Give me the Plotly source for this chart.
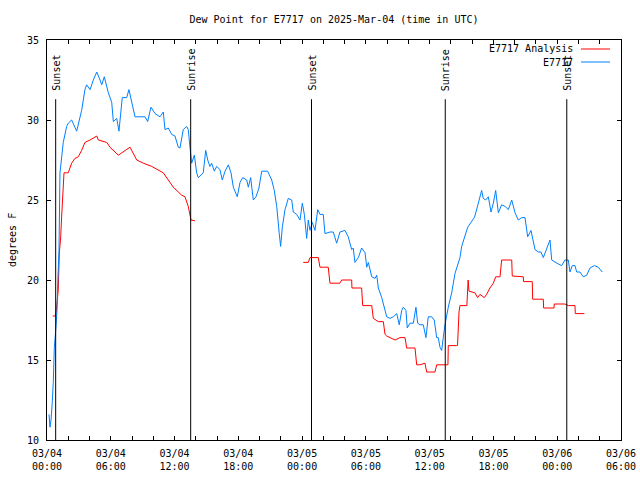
import pandas as pd
import plotly.graph_objects as go

# ---- data (hours after 2025-03-04 00:00 UTC, dew point in deg F) ----
obs_hours = [0.19, 0.28, 0.38, 0.44, 0.50, 0.59, 0.69, 0.85, 0.94, 1.01, 1.06, 1.13, 1.22, 1.53, 1.85,
             2.00, 2.32, 2.47, 2.79, 3.26, 3.57, 3.73, 4.05, 4.36, 4.68, 4.99, 5.15, 5.39, 5.77, 6.09,
             6.24, 6.56, 6.77, 7.08, 7.50, 7.71, 7.97, 8.28, 8.75, 9.22, 9.47, 9.78, 10.16, 10.63, 10.94,
             11.10, 11.41, 11.73, 12.04, 12.35, 12.51, 12.82, 13.14, 13.29, 13.45, 13.61, 13.86, 14.08,
             14.23, 14.70, 14.93, 15.12, 15.33, 15.49, 15.74, 15.96, 16.27, 16.49, 16.75, 17.06, 17.31,
             17.53, 17.90, 18.16, 18.41, 18.79, 18.94, 19.16, 19.41, 19.66, 19.94, 20.20, 20.76, 21.14,
             21.38, 21.61, 21.85, 21.98, 22.14, 22.39, 22.70, 23.02, 23.17, 23.49, 23.80, 24.02, 24.21,
             24.43, 24.58, 24.74, 24.96, 25.21, 25.47, 25.68, 25.99, 26.15, 26.62, 26.93, 27.25, 27.56,
             28.03, 28.34, 28.66, 28.81, 28.97, 29.29, 29.60, 29.92, 30.08, 30.23, 30.55, 30.86, 31.02,
             31.17, 31.49, 31.80, 31.96, 32.27, 32.58, 32.90, 33.14, 33.37, 33.52, 33.77, 33.89, 34.15,
             34.46, 34.71, 34.87, 35.09, 35.40, 35.65, 35.87, 36.19, 36.43, 36.66, 36.81, 36.97, 37.13,
             37.28, 37.44, 37.75, 38.07, 38.38, 38.54, 38.85, 39.01, 39.32, 39.58, 39.89, 40.20, 40.36,
             40.57, 40.73, 40.89, 41.04, 41.27, 41.52, 41.77, 41.99, 42.21, 42.46, 42.77, 43.09, 43.40,
             43.72, 44.03, 44.34, 44.66, 44.97, 45.22, 45.53, 45.75, 45.91, 46.22, 46.47, 46.69, 47.01,
             47.32, 47.48, 47.79, 48.10, 48.42, 48.73, 49.04, 49.20, 49.42, 49.67, 49.83, 50.14, 50.45,
             50.77, 51.08, 51.49, 51.86, 52.24]
obs_vals = [11.6, 10.8, 11.25, 11.7, 12.4, 13.6, 15.8, 17.1, 18.1, 19.8, 21.1, 21.9, 26.7, 28.6, 29.6,
            29.8, 30.0, 29.8, 29.3, 30.6, 31.9, 32.2, 31.9, 32.5, 33.0, 32.5, 32.2, 32.7, 31.7, 31.1,
            29.9, 30.1, 29.3, 31.4, 31.4, 31.9, 31.1, 30.2, 30.2, 30.2, 29.9, 30.8, 30.4, 30.2, 30.5,
            29.4, 29.5, 29.1, 29.0, 28.3, 28.25, 29.4, 29.6, 29.4, 28.3, 27.3, 27.8, 26.7,
            26.4, 26.7, 28.1, 27.5, 27.1, 27.3, 26.8, 27.1, 26.9, 26.25, 26.8, 27.2, 26.7,
            25.8, 25.2, 26.1, 26.4, 26.25, 25.8, 26.4, 25.0, 25.2, 25.75, 26.8, 26.8, 26.25,
            25.6, 24.6, 22.9, 22.1, 23.3, 24.4, 25.1, 25.0, 24.25, 24.1, 23.75, 24.8, 24.1,
            22.6, 23.75, 23.1, 23.6, 23.1, 24.4, 24.1, 24.1, 22.9, 23.0, 23.0, 22.3, 23.0,
            23.1, 22.7, 21.9, 22.0, 21.1, 21.4, 22.0, 21.7, 20.8, 21.1, 20.2, 20.1, 20.3,
            19.5, 18.9, 18.1, 17.7, 17.6, 17.7, 17.9, 17.2, 18.1, 18.3, 18.1, 17.0, 17.3,
            17.3, 18.3, 17.3, 17.2, 17.2, 16.4, 17.7, 17.7, 17.5, 16.4, 16.4, 15.8, 15.6,
            16.4, 17.2, 18.3, 19.2, 20.4, 20.8, 21.4, 22.1, 22.7, 23.3, 23.6, 23.9, 24.25,
            24.8, 25.3, 25.6, 25.1, 25.0, 25.2, 24.25, 24.8, 25.6, 24.2, 24.7, 24.6, 24.4,
            25.0, 24.2, 23.75, 23.9, 23.9, 22.7, 23.1, 22.5, 21.9, 21.75, 21.75, 21.4, 21.9,
            22.5, 21.25, 21.1, 21.0, 20.9, 21.25, 21.25, 20.5, 20.9, 20.9, 20.5, 20.5, 20.2,
            20.3, 20.75, 20.9, 20.8, 20.5]

ana_hours = [0.54, 0.80, 0.91, 1.06, 1.16, 1.29, 1.38, 1.48, 1.60, 1.85, 2.00, 2.32, 2.63, 2.94, 3.26,
             3.57, 4.05, 4.68, 4.83, 5.62, 5.93, 6.71, 7.34, 7.81, 8.44, 9.06, 9.85, 10.63, 10.94,
             11.57, 11.88, 12.67, 12.98, 13.29, 13.55, 13.92,
             None,
             24.11, 24.58, 24.74, 25.52, 25.68, 26.46, 26.62, 27.56, 27.72, 28.66, 28.69, 29.60, 29.70,
             30.55, 30.70, 31.17, 31.64, 31.80, 31.96, 32.74, 33.21, 33.68, 33.84, 34.62, 34.78, 35.09,
             35.56, 35.72, 36.50, 36.66, 37.72, 37.75, 38.54, 38.62, 38.76, 38.85, 39.50, 39.56, 39.62,
             39.70, 40.26, 40.51, 40.73, 41.14, 41.36, 41.67, 41.99, 42.21, 42.62, 42.77, 43.72, 43.77,
             44.81, 44.83, 45.65, 45.69, 46.69, 46.72, 47.70, 47.72, 48.73, 49.04, 49.67, 49.70, 50.55]
ana_vals = [17.75, 17.75, 18.3, 19.4, 21.7, 22.7, 24.0, 25.0, 26.7, 26.7, 26.7, 27.3, 27.6, 27.7, 28.1,
            28.6, 28.75, 29.0, 28.75, 28.6, 28.3, 27.8, 28.1, 28.3, 27.5, 27.3, 27.1, 26.8, 26.7,
            26.1, 25.8, 25.3, 25.2, 24.6, 23.75, 23.7,
            None,
            21.1, 21.1, 21.4, 21.4, 20.8, 20.8, 19.8, 19.8, 20.0, 20.0, 19.5, 19.5, 18.4,
            18.4, 17.6, 17.4, 17.4, 16.6, 16.5, 16.25, 16.4, 16.4, 15.75, 15.75, 14.7, 14.7,
            14.8, 14.25, 14.25, 14.7, 14.7, 15.9, 15.9, 15.9, 18.0, 18.4, 18.4, 19.2, 20.0,
            19.3, 19.2, 18.9, 19.1, 18.9, 19.1, 19.5, 19.8, 20.2, 20.2, 21.25, 21.25, 20.25,
            20.2, 19.9, 19.9, 18.8, 18.8, 18.25, 18.25, 18.5, 18.5, 18.4, 18.4, 17.9, 17.9]

sun_times = ["2025-03-04 00:49", "2025-03-04 13:31", "2025-03-05 00:53", "2025-03-05 13:28", "2025-03-06 00:54"]
sun_labels = ["Sunset", "Sunrise", "Sunset", "Sunrise", "Sunset"]

x_tick_vals = ["2025-03-04 00:00", "2025-03-04 06:00", "2025-03-04 12:00", "2025-03-04 18:00",
               "2025-03-05 00:00", "2025-03-05 06:00", "2025-03-05 12:00", "2025-03-05 18:00",
               "2025-03-06 00:00", "2025-03-06 06:00"]
x_tick_text = ["03/04<br>00:00", "03/04<br>06:00", "03/04<br>12:00", "03/04<br>18:00",
               "03/05<br>00:00", "03/05<br>06:00", "03/05<br>12:00", "03/05<br>18:00",
               "03/06<br>00:00", "03/06<br>06:00"]
y_ticks = [10, 15, 20, 25, 30, 35]

start = pd.Timestamp("2025-03-04 00:00")


def to_time(hours):
    return [None if h is None else start + pd.Timedelta(hours=h) for h in hours]


FONT = "DejaVu Sans Mono"
RED = "#ff0000"
BLUE = "#0080ff"

fig = go.Figure()
fig.add_trace(go.Scatter(x=to_time(ana_hours), y=ana_vals, mode="lines", name="E7717 Analysis",
                         line=dict(color=RED, width=1), connectgaps=False))
fig.add_trace(go.Scatter(x=to_time(obs_hours), y=obs_vals, mode="lines", name="E7717",
                         line=dict(color=BLUE, width=1)))

for t, lab in zip(sun_times, sun_labels):
    fig.add_shape(type="line", xref="x", yref="y", x0=t, x1=t, y0=10, y1=31.3,
                  line=dict(color="black", width=1))
    fig.add_annotation(x=t, y=31.75, xref="x", yref="y", text=lab, textangle=-90,
                       showarrow=False, xanchor="center", yanchor="bottom",
                       font=dict(family=FONT, size=10, color="black"), borderpad=0)

# legend drawn gnuplot-style (text right-aligned, sample to the right)
for i, (name, col) in enumerate([("E7717 Analysis", RED), ("E7717", BLUE)]):
    ypx = 49 + i * 13
    yp = (440 - ypx) / 400
    fig.add_annotation(x=(574 - 47) / 574, y=yp, xref="paper", yref="paper", text=name,
                       showarrow=False, xanchor="right", yanchor="middle", borderpad=0,
                       font=dict(family=FONT, size=10, color="black"))
    fig.add_shape(type="line", xref="paper", yref="paper", x0=(581 - 47) / 574, x1=(610 - 47) / 574,
                  y0=yp, y1=yp, line=dict(color=col, width=1))

fig.add_annotation(x=0, y=0.5, xref="paper", yref="paper", xshift=-35, text="degrees F",
                   textangle=-90, showarrow=False, xanchor="center", yanchor="middle",
                   font=dict(family=FONT, size=10, color="black"))

fig.update_layout(
    width=640, height=480,
    margin=dict(l=47, r=19, t=40, b=40, autoexpand=False),
    paper_bgcolor="white", plot_bgcolor="white",
    showlegend=False,
    font=dict(family=FONT, size=10, color="black"),
    title=dict(text="Dew Point for E7717 on 2025-Mar-04 (time in UTC)", xref="paper", x=0.5,
               xanchor="center", y=1 - 19 / 480, yanchor="middle",
               font=dict(family=FONT, size=10, color="black")),
    xaxis=dict(type="date", range=["2025-03-04 00:00", "2025-03-06 06:00"], automargin=False,
               tickmode="array", tickvals=x_tick_vals, ticktext=x_tick_text,
               ticks="inside", ticklen=4, tickcolor="black", showline=True, linecolor="black",
               linewidth=1, mirror="allticks", showgrid=False, zeroline=False,
               minor=dict(dtick=2 * 3600 * 1000, tick0="2025-03-04", ticks="inside", ticklen=4,
                          tickcolor="black", showgrid=False),
               tickfont=dict(family=FONT, size=10, color="black"), ticklabelstandoff=4),
    yaxis=dict(range=[10, 35], tickmode="array", tickvals=y_ticks, automargin=False,
               ticks="inside", ticklen=4, tickcolor="black", showline=True, linecolor="black",
               linewidth=1, mirror="allticks", showgrid=False, zeroline=False,
               tickfont=dict(family=FONT, size=10, color="black"), ticklabelstandoff=5),
)

fig.write_html("out.html", config={"displayModeBar": False},
               post_script="document.body.style.margin='0px';document.body.style.overflow='hidden';")
